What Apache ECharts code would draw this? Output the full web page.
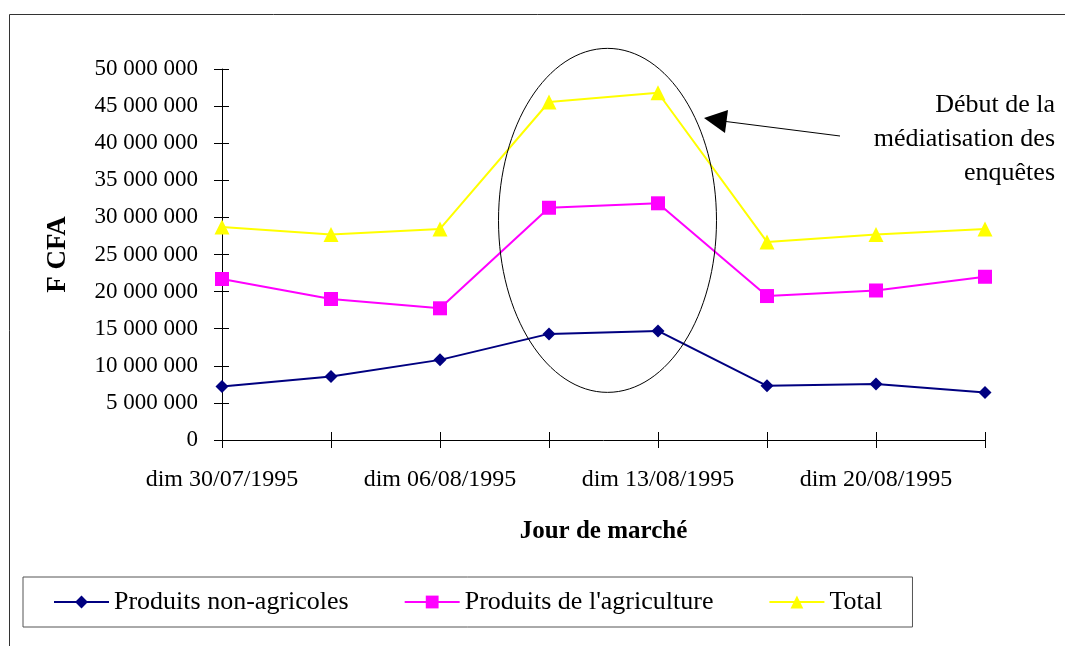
<!DOCTYPE html>
<html>
<head>
<meta charset="utf-8">
<script src="https://cdn.jsdelivr.net/npm/echarts@6/dist/echarts.min.js"></script>
<style>
  html, body { margin: 0; padding: 0; background: #fff; }
  #chart { width: 1065px; height: 646px; }
</style>
</head>
<body>
<div id="chart"></div>
<script>
  // jours de marché (seul un sur deux est étiqueté)
  const jours = [
    'dim 30/07/1995', 'jeu 03/08/1995', 'dim 06/08/1995', 'jeu 10/08/1995',
    'dim 13/08/1995', 'jeu 17/08/1995', 'dim 20/08/1995', 'jeu 24/08/1995'
  ];
  const nonAgricoles = [7200000, 8550000, 10800000, 14300000, 14700000, 7300000, 7550000, 6400000];
  const agriculture = [21700000, 19000000, 17750000, 31300000, 31900000, 19400000, 20150000, 22000000];
  const total = [28700000, 27700000, 28450000, 45550000, 46800000, 26700000, 27700000, 28450000];

  const FONT = 'Liberation Serif';
  const fmt = (v) => String(v).replace(/\B(?=(\d{3})+(?!\d))/g, ' ');

  const grid = { left: 222, right: 80, top: 69, bottom: 206 };

  const chart = echarts.init(document.getElementById('chart'));

  const options = {
    animation: false,
    backgroundColor: '#fff',
    grid: [grid, { ...grid }],
    legend: {
      left: 23,
      top: 577,
      orient: 'horizontal',
      padding: [12, 30, 12, 30],
      itemWidth: 55,
      itemHeight: 16,
      itemGap: 55,
      borderColor: '#555',
      borderWidth: 1,
      textStyle: { fontFamily: FONT, fontSize: 26, color: '#000' },
      data: ['Produits non-agricoles', "Produits de l'agriculture", 'Total']
    },
    xAxis: [
      {
        type: 'category',
        gridIndex: 0,
        data: jours,
        boundaryGap: false,
        name: 'Jour de marché',
        nameLocation: 'middle',
        nameGap: 79,
        nameTextStyle: { fontFamily: FONT, fontSize: 25, fontWeight: 'bold', color: '#000' },
        axisLine: { lineStyle: { color: '#000', width: 1 } },
        axisTick: { show: true, interval: 0, length: 8, lineStyle: { color: '#000' } },
        axisLabel: {
          interval: 1,
          margin: 28,
          fontFamily: FONT,
          fontSize: 24,
          color: '#000'
        },
        splitLine: { show: false }
      },
      {
        // demi-graduations intérieures (graduations croisées)
        type: 'category',
        gridIndex: 1,
        data: jours,
        boundaryGap: false,
        axisLine: { show: false },
        axisTick: { show: true, inside: true, interval: 0, length: 8, lineStyle: { color: '#000' } },
        axisLabel: { show: false },
        splitLine: { show: false }
      }
    ],
    yAxis: [
      {
        type: 'value',
        gridIndex: 0,
        min: 0,
        max: 50000000,
        interval: 5000000,
        name: 'F CFA',
        nameLocation: 'middle',
        nameGap: 150,
        nameRotate: 90,
        nameTextStyle: { fontFamily: FONT, fontSize: 27, fontWeight: 'bold', color: '#000' },
        axisLine: { show: true, lineStyle: { color: '#000', width: 1 } },
        axisTick: { show: true, length: 8, lineStyle: { color: '#000' } },
        axisLabel: {
          margin: 24,
          fontFamily: FONT,
          fontSize: 23,
          color: '#000',
          formatter: fmt
        },
        splitLine: { show: false }
      },
      {
        type: 'value',
        gridIndex: 1,
        min: 0,
        max: 50000000,
        interval: 5000000,
        axisLine: { show: false },
        axisTick: { show: true, inside: true, length: 7, lineStyle: { color: '#000' } },
        axisLabel: { show: false },
        splitLine: { show: false }
      }
    ],
    series: [
      {
        name: 'Produits non-agricoles',
        type: 'line',
        xAxisIndex: 0,
        yAxisIndex: 0,
        data: nonAgricoles,
        symbol: 'diamond',
        symbolSize: 13,
        color: '#000080',
        lineStyle: { color: '#000080', width: 2 },
        itemStyle: { color: '#000080' },
        z: 4
      },
      {
        name: "Produits de l'agriculture",
        type: 'line',
        xAxisIndex: 0,
        yAxisIndex: 0,
        data: agriculture,
        symbol: 'rect',
        symbolSize: 14,
        color: '#ff00ff',
        lineStyle: { color: '#ff00ff', width: 2 },
        itemStyle: { color: '#ff00ff' },
        z: 3
      },
      {
        name: 'Total',
        type: 'line',
        xAxisIndex: 0,
        yAxisIndex: 0,
        data: total,
        symbol: 'triangle',
        symbolSize: 15,
        color: '#ffff00',
        lineStyle: { color: '#ffff00', width: 2 },
        itemStyle: { color: '#ffff00' },
        z: 2
      }
    ]
  };

  chart.setOption(options);

  // annotations : cadre, ellipse autour des deux pics, flèche et texte
  const p3 = chart.convertToPixel({ gridIndex: 0 }, [3, 29600000]);
  const p4 = chart.convertToPixel({ gridIndex: 0 }, [4, 29600000]);
  const cx = (p3[0] + p4[0]) / 2 + 4;
  const cy = p3[1];

  chart.setOption({
    graphic: [
      {
        type: 'rect',
        z: -1,
        shape: { x: 9.5, y: 14.5, width: 1100, height: 700 },
        style: { fill: 'none', stroke: '#333', lineWidth: 1 },
        silent: true
      },
      {
        type: 'ellipse',
        shape: { cx: cx, cy: cy, rx: 109, ry: 172 },
        style: { fill: 'none', stroke: '#000', lineWidth: 1 },
        silent: true,
        z: 10
      },
      {
        type: 'line',
        shape: { x1: 840, y1: 136, x2: 722, y2: 121 },
        style: { stroke: '#000', lineWidth: 1 },
        silent: true,
        z: 10
      },
      {
        type: 'polygon',
        shape: { points: [[704, 118], [728, 110], [725, 133]] },
        style: { fill: '#000' },
        silent: true,
        z: 10
      },
      {
        type: 'text',
        x: 1055,
        y: 88,
        style: {
          text: 'Début de la\nmédiatisation des\nenquêtes',
          fontFamily: FONT,
          fontSize: 26,
          lineHeight: 34,
          fill: '#000',
          align: 'right',
          verticalAlign: 'top'
        },
        silent: true,
        z: 10
      }
    ]
  });
</script>
</body>
</html>
